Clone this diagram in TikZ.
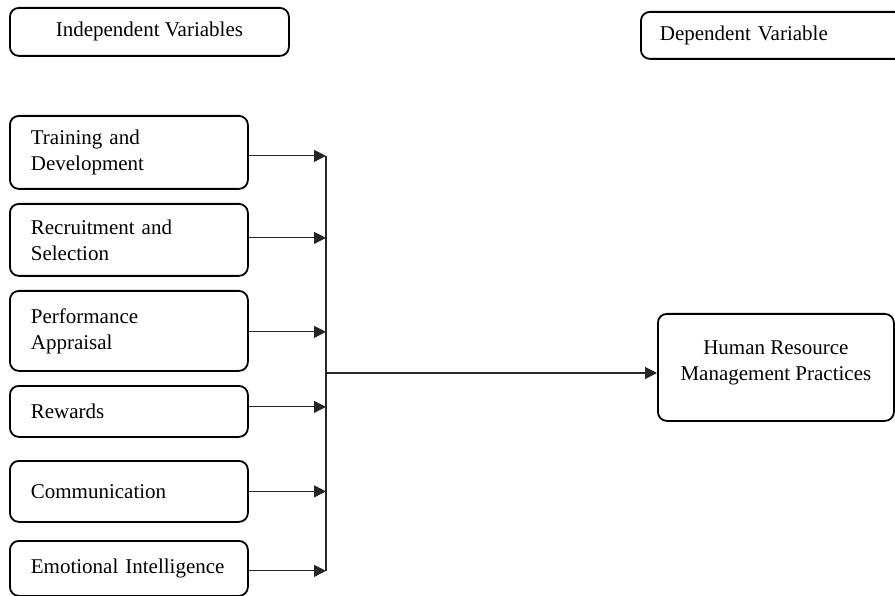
\documentclass[tikz,border=0pt]{standalone}
\usepackage{fontspec}
\setmainfont{Liberation Serif}
\usetikzlibrary{arrows.meta, positioning, calc}

\begin{document}
\begin{tikzpicture}[x=1pt, y=-1pt, font=\fontsize{21}{26}\selectfont]

	% Define block styles
	\tikzstyle{block} = [rectangle, draw, line width=1.8pt, rounded corners=9pt,
	anchor=north west, text width=196pt, align=left, inner xsep=21pt, inner ysep=0pt]
	\tikzstyle{head} = [rectangle, draw, line width=1.8pt, rounded corners=9pt,
	anchor=north west, align=center, inner sep=0pt]
	\tikzstyle{line} = [draw, line width=1.1pt, color=black!85, -{Triangle[length=12pt, width=12pt]}]
	\tikzstyle{bus} = [draw, line width=1.1pt, color=black!85]

	\useasboundingbox (0,0) rectangle (895,596);

	% Headings
	\node [head, minimum width=279pt, minimum height=48pt] (indep) at (9,7) {Independent Variables};
	\node [block, text width=262pt, inner xsep=19pt, minimum height=47pt] (dep) at (640,11) {Dependent Variable};

	% Nodes
	\node [block, minimum height=73pt] (train) at (9,115) {Training and\\Development};
	\node [block, minimum height=72pt] (recruit) at (9,203) {Recruitment and\\Selection};
	\node [block, minimum height=80pt] (perf) at (9,290) {Performance\\Appraisal};
	\node [block, minimum height=51pt] (reward) at (9,385) {Rewards};
	\node [block, minimum height=61pt] (comm) at (9,460) {Communication};
	\node [block, minimum height=55pt] (emot) at (9,540) {Emotional Intelligence};
	\node [head, minimum width=236pt, minimum height=107pt, text depth=14pt] (hrm) at (657,313) {Human Resource\\Management Practices};

	\coordinate (bus) at (326,0);
	\coordinate (junction) at (326,373);

	% Paths
	\path [line] ([yshift=-3.5pt]train.east) -- ([yshift=-3.5pt]train.east -| bus);
	\path [line] ([yshift=2pt]recruit.east) -- ([yshift=2pt]recruit.east -| bus);
	\path [line] ([yshift=-1pt]perf.east) -- ([yshift=-1pt]perf.east -| bus);
	\path [line] ([yshift=4.5pt]reward.east) -- ([yshift=4.5pt]reward.east -| bus);
	\path [line] (comm.east) -- (comm.east -| bus);
	\path [line] ([yshift=-2.5pt]emot.east) -- ([yshift=-2.5pt]emot.east -| bus);
	\path [bus] ([yshift=-3.5pt]train.east -| bus) -- ([yshift=-2.5pt]emot.east -| bus);
	\path [line] (junction) -- (junction -| hrm.west);
\end{tikzpicture}
\end{document}
